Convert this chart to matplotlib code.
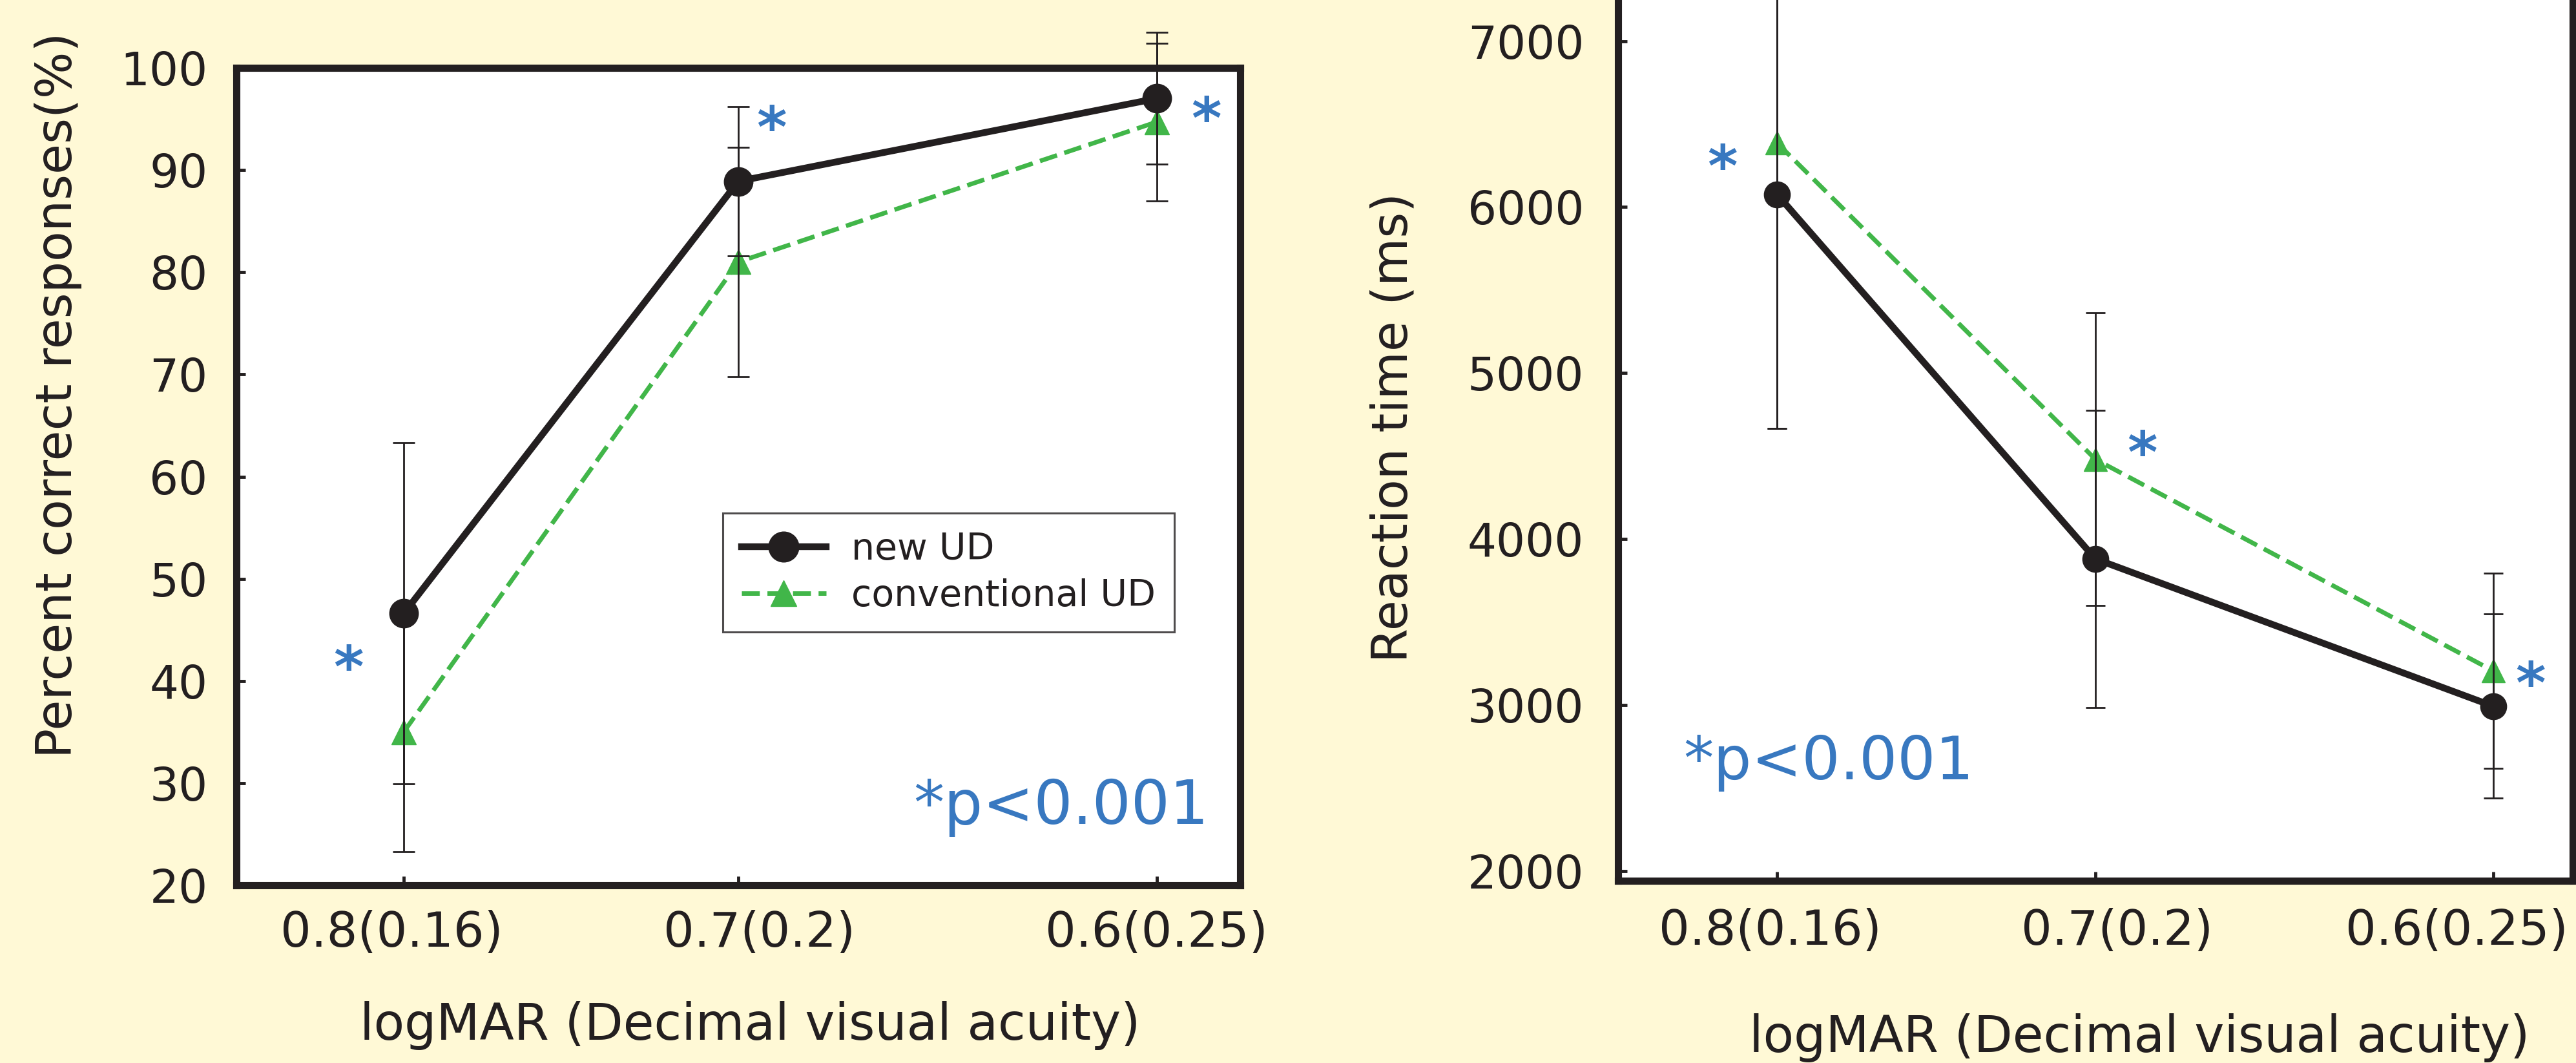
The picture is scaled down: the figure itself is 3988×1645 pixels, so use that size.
import matplotlib
matplotlib.use("Agg")
import matplotlib.pyplot as plt
from matplotlib.transforms import offset_copy, ScaledTranslation

# decimal visual acuity on x, shown as logMAR(decimal)
acuity = [0.16, 0.2, 0.25]
tick_labels = ['0.8(0.16)', '0.7(0.2)', '0.6(0.25)']

# percent correct responses
pc_new = [46.6, 88.9, 97.0]
pc_new_err = [16.7, 7.3, 6.45]
pc_conv = [35.0, 81.0, 94.7]
pc_conv_err = [11.7, 11.2, 7.7]

# reaction time (ms)
rt_new = [6076, 3880, 2992]
rt_new_err = [1411, 895, 555]
rt_conv = [6386, 4480, 3205]
rt_conv_err = [1720, 882, 588]

# asterisk positions (x, y) per panel
star_pc = [(0.1534, 42.9), (0.2040, 95.7), (0.2559, 96.6)]
star_rt = [(0.1531, 6342), (0.2059, 4615), (0.2547, 3226)]

BG = '#FFF9D6'
BLACK = '#231F20'
GREEN = '#41B649'
BLUE = '#3878C0'

plt.rcParams['font.family'] = ['DejaVu Sans']

fig = plt.figure(figsize=(39.88, 16.45), dpi=100, facecolor=BG)
ax1 = fig.add_axes([0.09178, 0.16717, 0.38967, 0.76900])
ax2 = fig.add_axes([0.62813, 0.17143, 0.37061, 0.85228])


def draw_panel(ax, y_new, e_new, y_conv, e_conv, ms_c, ms_t, cap):
    ax.set_facecolor('white')
    ax.plot(acuity, y_conv, color=GREEN, lw=5, dashes=(4.0, 1.7), marker='^',
            ms=ms_t, mec=GREEN, mfc=GREEN, zorder=2, clip_on=False,
            label='conventional UD')
    for y, e in [(y_new, e_new), (y_conv, e_conv)]:
        eb = ax.errorbar(acuity, y, yerr=e, fmt='none', ecolor=BLACK,
                         elinewidth=2, capsize=cap, capthick=2, zorder=3)
        for a in list(eb.lines[1]) + list(eb.lines[2]):
            a.set_clip_on(False)
    ax.plot(acuity, y_new, color=BLACK, lw=7.5, marker='o', ms=ms_c,
            mfc=BLACK, mec=BLACK, zorder=4, clip_on=False, label='new UD')
    ax.set_xlim(0.14, 0.26)
    ax.set_xticks(acuity)
    ax.set_xticklabels(tick_labels)
    for s in ax.spines.values():
        s.set_linewidth(8)
        s.set_color(BLACK)
    ax.tick_params(axis='both', direction='in', length=10, width=3.5,
                   color=BLACK, labelcolor=BLACK, labelsize=51)
    ax.tick_params(axis='x', labelsize=54)


draw_panel(ax1, pc_new, pc_new_err, pc_conv, pc_conv_err, 32, 27, 12)
draw_panel(ax2, rt_new, rt_new_err, rt_conv, rt_conv_err, 29, 26, 11)

ax1.set_ylim(20, 100)
ax1.set_yticks(range(20, 101, 10))
ax1.tick_params(axis='y', pad=32)
ax1.tick_params(axis='x', pad=27)
ax2.set_ylim(1940, 7400)
ax2.set_yticks(range(2000, 7001, 1000))
ax2.tick_params(axis='y', pad=38)
ax2.tick_params(axis='x', pad=30)

# tick labels in the figure sit a little off their ticks
for ax, shifts in [(ax1, [-19, 32, 0]), (ax2, [-11, 34, -56])]:
    for lab, dx in zip(ax.get_xticklabels(), shifts):
        lab.set_transform(lab.get_transform() + ScaledTranslation(dx / 100, 0, fig.dpi_scale_trans))

ax1.set_ylabel('Percent correct responses(%)', fontsize=55, color=BLACK, va='center')
ax1.yaxis.set_label_coords(-0.1776, 0.600)
ax1.set_xlabel('logMAR (Decimal visual acuity)', fontsize=56, color=BLACK, va='center')
ax1.xaxis.set_label_coords(0.5116, -0.1715)

ax2.set_ylabel('Reaction time (ms)', fontsize=55, color=BLACK, va='center')
ax2.yaxis.set_label_coords(-0.2348, 0.5007)
ax2.set_xlabel('logMAR (Decimal visual acuity)', fontsize=56, color=BLACK, va='center')
ax2.xaxis.set_label_coords(0.546, -0.1735)

# significance marks
for ax, stars in [(ax1, star_pc), (ax2, star_rt)]:
    tr = offset_copy(ax.transData, fig=fig, x=0, y=-55, units='dots')
    for sx, sy in stars:
        ax.text(sx, sy, '*', transform=tr, fontsize=64, fontweight='bold',
                color=BLUE, ha='center', va='baseline', clip_on=False)

ax1.text(0.2562, 26.0, '*p<0.001', fontsize=68, color=BLUE, ha='right', va='baseline')
ax2.text(0.1482, 2553, '*p<0.001', fontsize=67, color=BLUE, ha='left', va='baseline')

h, l = ax1.get_legend_handles_labels()
leg = ax1.legend(h[::-1], l[::-1], loc='upper left', bbox_to_anchor=(0.4846, 0.4553),
                 borderaxespad=0, fontsize=41, frameon=True, fancybox=False,
                 edgecolor=BLACK, handlelength=2.3, handletextpad=0.7,
                 labelspacing=0.3, borderpad=0.5, markerscale=1.05)
leg.get_frame().set_linewidth(2.2)
for t in leg.get_texts():
    t.set_color(BLACK)

fig.savefig('out.png', dpi=100, facecolor=BG)
